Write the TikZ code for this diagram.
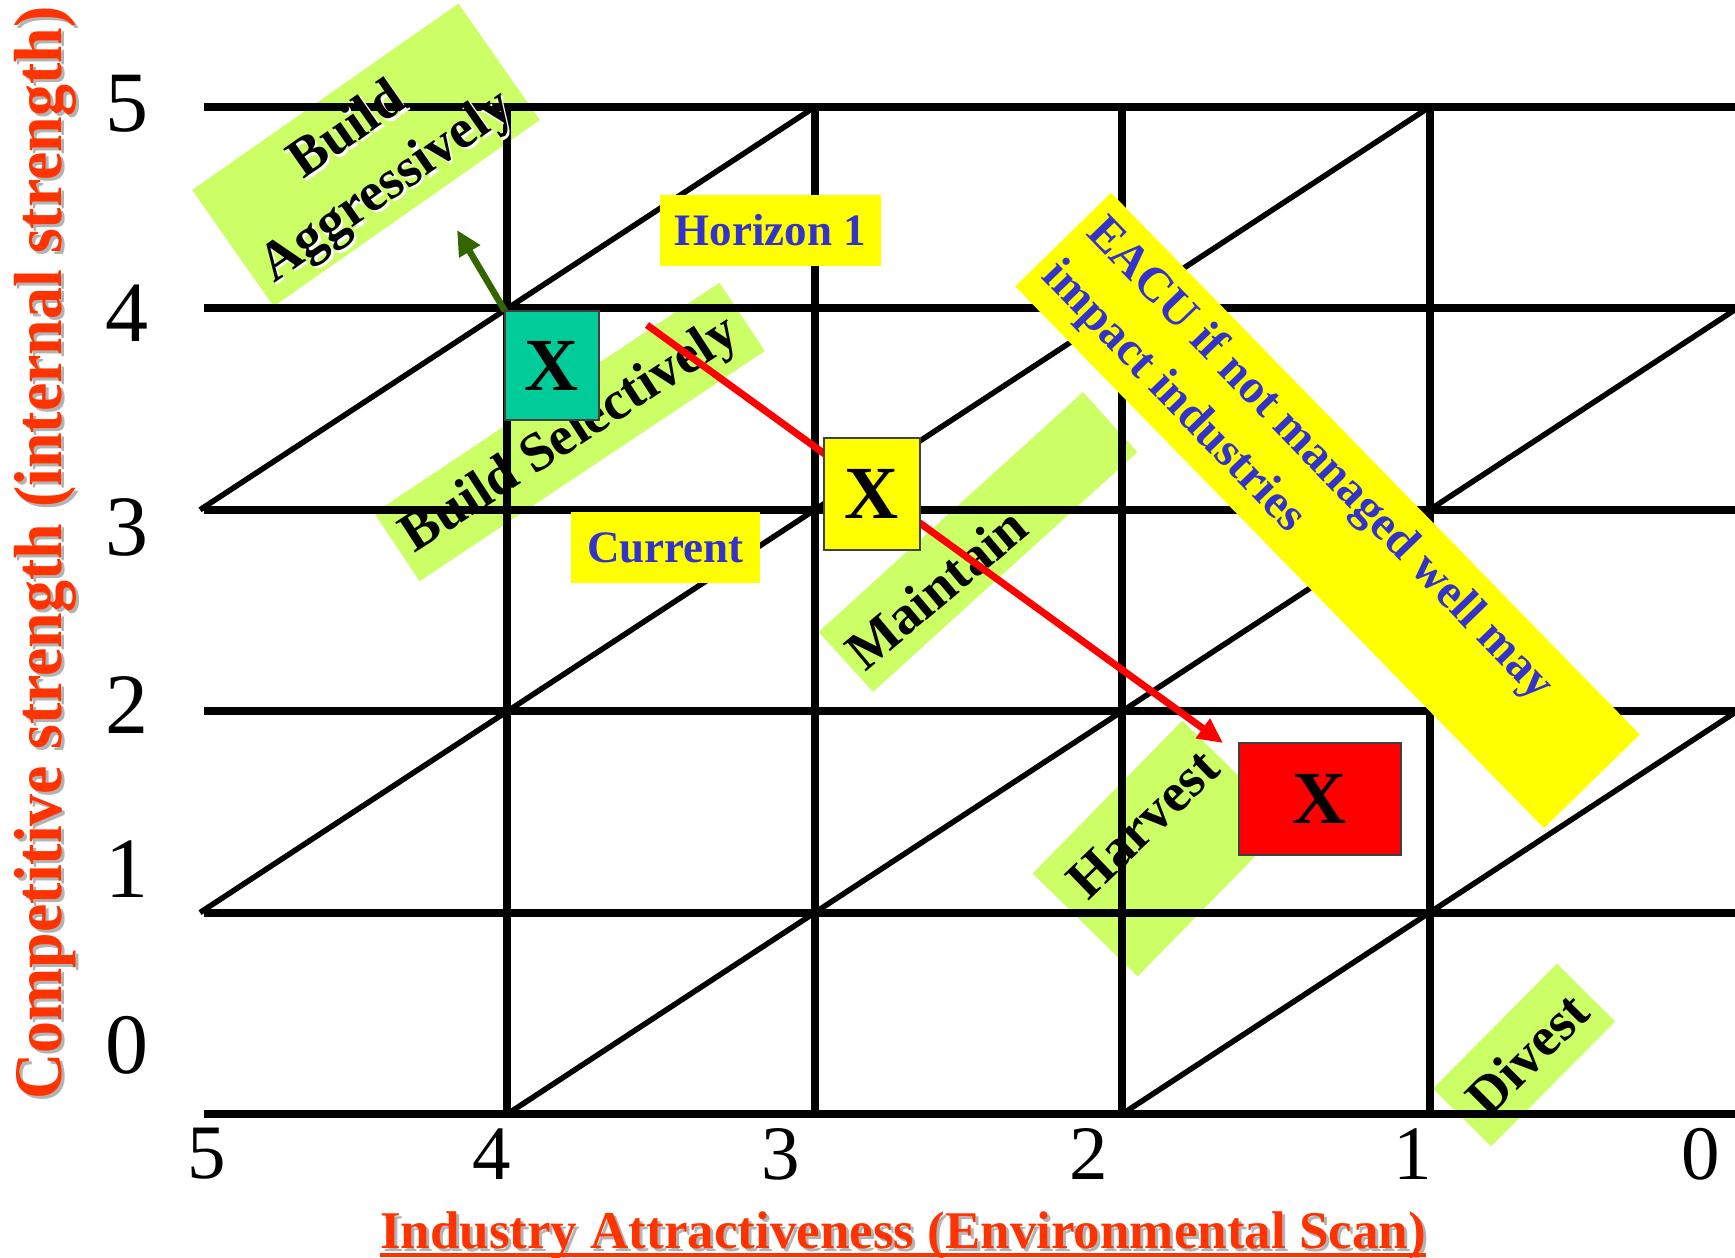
\documentclass[tikz,border=0pt]{standalone}
\usepackage{fontspec}
\setmainfont{Liberation Serif}
\usetikzlibrary{arrows.meta,calc}

\definecolor{bandgreen}{HTML}{CCFF66}
\definecolor{noteyellow}{HTML}{FFFF00}
\definecolor{boxteal}{HTML}{00CC99}
\definecolor{boxred}{HTML}{FF0000}
\definecolor{boxborder}{HTML}{404040}
\definecolor{labelblue}{HTML}{3333CC}
\definecolor{axisred}{HTML}{FF3300}
\definecolor{shadowgray}{HTML}{B3B3B3}
\definecolor{arrowgreen}{HTML}{336600}

\tikzset{
  gridline/.style={line width=8pt, black},
  diagline/.style={line width=5.5pt, black},
  band/.style={fill=bandgreen, inner sep=0pt},
  bandtext/.style={inner sep=0pt, font=\bfseries\fontsize{55}{68}\selectfont},
  notebox/.style={fill=noteyellow, inner sep=0pt, text=labelblue,
    font=\bfseries\fontsize{45}{52}\selectfont},
  markbox/.style={draw=boxborder, line width=1.5pt, inner sep=0pt,
    font=\bfseries\fontsize{75}{80}\selectfont},
  leftnum/.style={inner sep=0pt, font=\fontsize{86}{90}\selectfont},
  bottomnum/.style={inner sep=0pt, font=\fontsize{77}{80}\selectfont},
  ytitle/.style={inner sep=0pt, rotate=90, anchor=base,
    font=\bfseries\fontsize{68}{72}\selectfont},
  xtitle/.style={inner sep=0pt, anchor=base,
    font=\bfseries\fontsize{53}{60}\selectfont},
  movearrow/.style={line width=7pt, -{Triangle[length=25pt,width=23pt]}}
}

\begin{document}
\begin{tikzpicture}[x=1pt, y=-1pt]
\useasboundingbox (0,0) rectangle (1735,1258);
\fill[white] (0,0) rectangle (1735,1258);

% grid points: column u (industry attractiveness), row v (competitive strength)
\foreach \u in {0,...,5}
  \foreach \v in {0,...,5}
    \coordinate (g\u\v) at ({200+307.4*\u},{1114-201.4*\v});

% strategy bands (behind the grid)
\node[band, rotate=35, minimum width=325pt, minimum height=142pt] (bandBA) at (366,155) {};
\node[band, rotate=33.7, minimum width=415pt, minimum height=82pt] (bandBS) at (569.5,432) {};
\node[band, rotate=42.2, minimum width=357pt, minimum height=81pt] (bandMT) at (978,542) {};
\node[band, rotate=45.6, minimum width=214pt, minimum height=147pt] (bandHV) at (1160,848.5) {};
\node[band, rotate=45.2, minimum width=176pt, minimum height=82pt] (bandDV) at (1524,1055) {};

% grid
\foreach \v in {0,...,5}
  \draw[gridline] ([xshift=4pt]g0\v) -- (g5\v);
\foreach \u in {1,...,4}
  \draw[gridline] (g\u0) -- (g\u5);
\draw[diagline] (g03) -- (g25);
\draw[diagline] (g01) -- (g45);
\draw[diagline] (g10) -- (g54);
\draw[diagline] (g30) -- (g52);

% band labels
\node[bandtext, rotate=35, align=center, text=white] (txtBAshadow) at (370.5,162.5) {Build\\Aggressively};
\node[bandtext, rotate=35, align=center] (txtBA) at (368,160) {Build\\Aggressively};
\node[bandtext, rotate=33] (txtBS) at (571,436) {Build Selectively};
\node[bandtext, rotate=40] (txtMT) at (936,588) {Maintain};
\node[bandtext, rotate=44] (txtHV) at (1143,824) {Harvest};
\node[bandtext, rotate=45] (txtDV) at (1527,1054) {Divest};

% warning band
\node[fill=noteyellow, inner sep=0pt, rotate=-45.7, minimum width=757pt, minimum height=134pt] (bandEA) at (1327.5,510.5) {};
\node[inner sep=0pt, rotate=-46, anchor=west, align=left, text=labelblue,
      font=\bfseries\fontsize{48}{62}\selectfont] (txtEA)
  at ($(bandEA.west)!12pt!(bandEA.east)$) {EACU if not managed well may\\impact industries};

% horizon notes
\node[notebox, minimum width=221pt, minimum height=71pt] (hz) at (770.5,230.5) {Horizon 1};
\node[notebox, minimum width=189pt, minimum height=71pt] (cur) at (665.5,547.5) {Current};

% movement arrows
\coordinate (tipA) at (457,230);
\coordinate (redstart) at (647,325);
\coordinate (redtip) at (1223,743);
\draw[movearrow, arrowgreen, line width=6.5pt] (505,311) -- (tipA);
\draw[movearrow, boxred] (redstart) -- (redtip);

% positions
\node[markbox, fill=boxteal, minimum width=94pt, minimum height=109pt] (xa) at (552,365.5) {X};
\node[markbox, fill=noteyellow, minimum width=96pt, minimum height=112pt] (xb) at (872,494) {X};
\node[markbox, fill=boxred, minimum width=162pt, minimum height=112pt] (xc) at (1320,799) {X};

% axis numbers
\foreach \n/\yy in {5/104,4/313.5,3/527,2/705,1/869,0/1045}
  \node[leftnum] (ly\n) at (127,\yy) {\n};
\foreach \n/\xx in {5/207,4/492,3/781,2/1089,1/1413,0/1701}
  \node[bottomnum] (lx\n) at (\xx,1154) {\n};

% axis titles
\node[ytitle, text=shadowgray] (ytshadow) at (64,556) {\scalebox{0.94}[1]{Competitive strength (internal strength)}};
\node[ytitle, text=axisred] (yt) at (61,553) {\scalebox{0.94}[1]{Competitive strength (internal strength)}};
\node[xtitle, text=shadowgray] (xtshadow) at (906,1251) {Industry Attractiveness (Environmental Scan)};
\node[xtitle, text=axisred] (xt) at (903,1248) {Industry Attractiveness (Environmental Scan)};
\draw[axisred, line width=3.3pt] ([yshift=-7pt]xt.base west) -- ([yshift=-7pt]xt.base east);
\end{tikzpicture}
\end{document}
